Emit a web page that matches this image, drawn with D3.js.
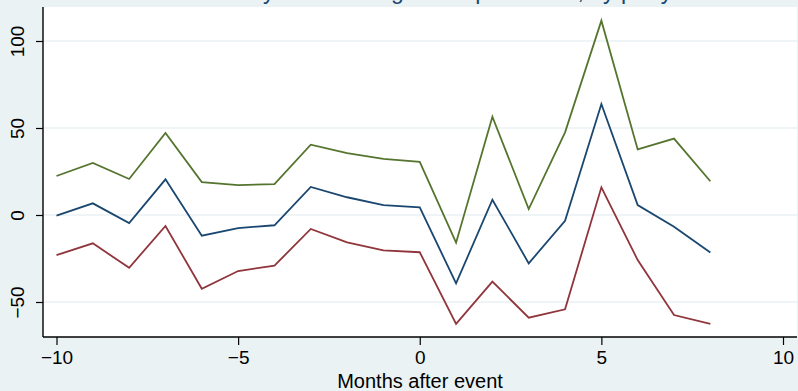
<!DOCTYPE html>
<html>
<head>
<meta charset="utf-8">
<script src="https://cdn.jsdelivr.net/npm/d3@7"></script>
<style>
  html, body { margin: 0; padding: 0; background: #eaf2f3; }
  svg { display: block; font-family: "Liberation Sans", Arial, Helvetica, sans-serif; }
</style>
</head>
<body>
<svg id="chart" width="798" height="391"></svg>
<script>
// Months relative to the event
const months = [-10, -9, -8, -7, -6, -5, -4, -3, -2, -1, 0, 1, 2, 3, 4, 5, 6, 7, 8];

// Point estimate and upper / lower bounds for each month
const estimate = [-0.4, 6.7, -4.6, 20.5, -11.9, -7.5, -5.9, 16.1, 10.2, 5.7, 4.4, -39.3, 8.8, -27.8, -3.3, 63.8, 5.7, -6.7, -21.6];
const upper    = [22.4, 29.9, 20.7, 47.1, 18.9, 17.2, 17.8, 40.4, 35.6, 32.2, 30.5, -15.9, 56.5, 3.4, 47.5, 111.7, 37.7, 43.9, 19.4];
const lower    = [-23.0, -16.3, -30.3, -6.3, -42.4, -32.2, -29.1, -8.0, -15.7, -20.3, -21.4, -62.6, -38.3, -59.0, -54.2, 15.9, -25.9, -57.5, -62.6];

// Axis ticks and labels
const xTicks = [-10, -5, 0, 5, 10];
const yTicks = [-50, 0, 50, 100];
const chartTitle = "Monthly sales change after promotion, by party";
const xTitle = "Months after event";

const svg = d3.select("#chart");
const W = 798, H = 391;
const plot = { left: 43, right: 797, top: 7, bottom: 337 };

const x = d3.scaleLinear().domain([-10, 10]).range([56.5, 783]);
const y = d3.scaleLinear().domain([-50, 100]).range([302, 41]);

// Graph background
svg.append("rect").attr("width", W).attr("height", H).attr("fill", "#eaf2f3");

// Plot region
svg.append("rect")
  .attr("x", plot.left).attr("y", plot.top)
  .attr("width", plot.right - plot.left).attr("height", plot.bottom - plot.top)
  .attr("fill", "#ffffff");

// Horizontal grid lines
svg.append("g").selectAll("line").data(yTicks).join("line")
  .attr("x1", plot.left).attr("x2", plot.right)
  .attr("y1", d => y(d)).attr("y2", d => y(d))
  .attr("stroke", "#eaf2f3").attr("stroke-width", 1.5);

// Series lines
const series = [
  { values: upper, color: "#55752f" },
  { values: estimate, color: "#1a476f" },
  { values: lower, color: "#90353b" }
];
const line = d3.line().x(d => x(d[0])).y(d => y(d[1]));
svg.append("g").selectAll("path").data(series).join("path")
  .attr("d", s => line(months.map((m, i) => [m, s.values[i]])))
  .attr("fill", "none")
  .attr("stroke", s => s.color)
  .attr("stroke-width", 1.8)
  .attr("stroke-linejoin", "miter");

// X axis
const xAxis = svg.append("g")
  .attr("transform", `translate(0,${plot.bottom})`)
  .call(d3.axisBottom(x).tickValues(xTicks).tickSize(8).tickSizeOuter(0));
xAxis.select(".domain").attr("d", `M${plot.left},0H${plot.right}`).attr("stroke", "#000").attr("stroke-width", 1.4);
xAxis.selectAll(".tick line").attr("stroke", "#000").attr("stroke-width", 1.2);
xAxis.selectAll(".tick text")
  .attr("y", 27).attr("dy", 0)
  .attr("font-size", 19).attr("fill", "#000")
  .attr("font-family", "'Liberation Sans', Arial, sans-serif");

// Y axis with vertical tick labels
const yAxis = svg.append("g")
  .attr("transform", `translate(${plot.left},0)`)
  .call(d3.axisLeft(y).tickValues(yTicks).tickSize(7).tickSizeOuter(0));
yAxis.select(".domain").attr("d", `M0,${plot.top}V${plot.bottom}`).attr("stroke", "#000").attr("stroke-width", 1.4);
yAxis.selectAll(".tick line").attr("stroke", "#000").attr("stroke-width", 1.2);
yAxis.selectAll(".tick text")
  .attr("x", 0).attr("dy", 0)
  .attr("transform", "translate(-19,0) rotate(-90)")
  .attr("text-anchor", "middle")
  .attr("font-size", 19).attr("fill", "#000")
  .attr("font-family", "'Liberation Sans', Arial, sans-serif");

// X axis title
svg.append("text")
  .attr("x", (plot.left + plot.right) / 2).attr("y", 388)
  .attr("text-anchor", "middle")
  .attr("font-size", 20).attr("fill", "#000")
  .text(xTitle);

// Chart title, running off the top edge
svg.append("text")
  .attr("x", 194).attr("y", -1.5)
  .attr("font-size", 23).attr("fill", "#1a476f")
  .text(chartTitle);
</script>
</body>
</html>
